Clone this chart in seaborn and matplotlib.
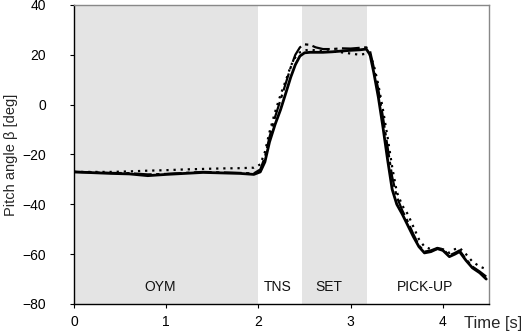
import matplotlib
matplotlib.use("Agg")
import matplotlib.pyplot as plt
import seaborn as sns
import pandas as pd

# time axis [s]
t = [0.0, 0.2, 0.4, 0.6, 0.8, 1.0, 1.2, 1.4, 1.6, 1.8, 1.95, 2.02, 2.07, 2.12, 2.18,
     2.24, 2.3, 2.35, 2.4, 2.45, 2.5, 2.56, 2.62, 2.7, 2.8, 2.9, 3.0, 3.1, 3.17, 3.21,
     3.25, 3.3, 3.35, 3.4, 3.45, 3.5, 3.56, 3.62, 3.68, 3.74, 3.8, 3.87, 3.94, 4.0,
     4.07, 4.13, 4.18, 4.25, 4.32, 4.4, 4.47]

# pitch angle [deg]
solid = [-27.0, -27.3, -27.6, -27.8, -28.5, -28.0, -27.6, -27.2, -27.4, -27.6, -28.0,
         -27.0, -23.0, -15.0, -8.0, -2.0, 5.0, 11.0, 16.0, 19.5, 20.8, 21.0, 21.0,
         21.0, 21.2, 21.5, 21.8, 22.0, 22.3, 20.0, 13.0, 3.0, -9.0, -22.0, -34.0,
         -40.0, -44.0, -48.5, -53.0, -57.0, -59.5, -59.0, -57.8, -58.5, -61.0, -60.0,
         -59.0, -62.5, -65.5, -67.5, -70.0]
dashdot = [-27.0, -27.2, -27.4, -27.5, -28.0, -27.8, -27.4, -27.0, -27.2, -27.4, -27.6,
           -26.0, -21.0, -13.0, -5.0, 2.0, 9.0, 15.0, 20.0, 23.0, 24.2, 24.0, 23.0,
           22.3, 22.3, 22.6, 22.5, 22.8, 23.0, 21.5, 15.0, 6.0, -5.0, -17.0, -29.0,
           -37.0, -42.5, -47.0, -52.0, -56.5, -59.0, -58.5, -57.5, -58.0, -60.5, -59.5,
           -58.5, -62.0, -65.0, -67.0, -69.0]
dotted = [-27.0, -27.0, -27.0, -26.8, -26.5, -26.3, -26.0, -25.8, -25.6, -25.5, -25.3,
          -24.0, -19.0, -11.0, -3.0, 4.0, 10.0, 15.5, 19.0, 21.0, 21.8, 22.0, 21.8,
          21.5, 21.3, 21.0, 20.5, 20.0, 20.5, 20.0, 16.0, 8.0, -2.0, -13.0, -25.0,
          -35.0, -40.5, -44.0, -49.0, -54.0, -57.0, -58.0, -58.0, -58.0, -59.5, -58.0,
          -57.5, -60.0, -63.0, -65.0, -66.0]

# phases
phase_names = ["OYM", "TNS", "SET", "PICK-UP"]
phase_label_x = [0.93, 2.21, 2.76, 3.81]
shaded = [(0.0, 2.0), (2.47, 3.18)]

df = pd.DataFrame({"t": t, "solid": solid, "dashdot": dashdot, "dotted": dotted})

sns.set_style("white")
plt.rcParams["font.family"] = ["Liberation Sans", "DejaVu Sans"]

fig = plt.figure(figsize=(5.21, 3.31), dpi=100)
ax = fig.add_axes([0.142, 0.0816, 0.7966, 0.9034])

for a, b in shaded:
    ax.axvspan(a, b, color="#e4e4e4", lw=0, zorder=0)

sns.lineplot(data=df, x="t", y="dotted", ax=ax, color="black", lw=1.6,
             linestyle=(0, (1, 2.2)), zorder=3)
sns.lineplot(data=df, x="t", y="dashdot", ax=ax, color="black", lw=1.6,
             linestyle=(0, (8, 2, 1.5, 2)), zorder=4)
sns.lineplot(data=df, x="t", y="solid", ax=ax, color="black", lw=2.0, zorder=5)

for name, x in zip(phase_names, phase_label_x):
    ax.text(x, -73, name, ha="center", va="center", fontsize=10, color="#111111")

ax.set_xlim(0, 4.5)
ax.set_ylim(-80, 40)
ax.set_xticks([0, 1, 2, 3, 4])
ax.set_yticks([-80, -60, -40, -20, 0, 20, 40])
ax.tick_params(axis="both", direction="out", length=3, width=0.8, labelsize=10,
               colors="black", left=True, bottom=True)
ax.tick_params(axis="y", pad=17)
ax.tick_params(axis="x", pad=5)
ax.set_xlabel("")
ax.set_ylabel("Pitch angle β [deg]", fontsize=10.5, labelpad=3)
ax.text(0.94, -0.064, "Time [s]", transform=ax.transAxes, ha="left", va="center",
        fontsize=12)

for side in ["left", "bottom"]:
    ax.spines[side].set_color("black")
    ax.spines[side].set_linewidth(1.0)
for side in ["top", "right"]:
    ax.spines[side].set_color("#888888")
    ax.spines[side].set_linewidth(1.0)

fig.savefig("out.png", dpi=100)
